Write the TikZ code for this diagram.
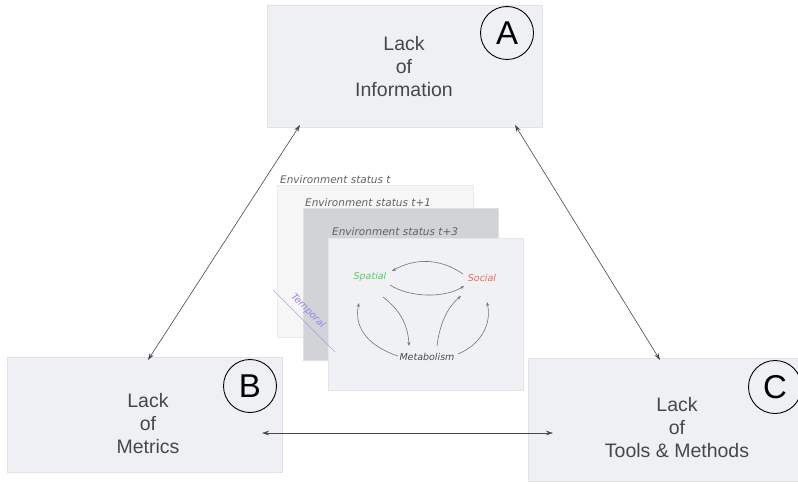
\documentclass[tikz,border=0pt]{standalone}
\usepackage{fontspec}
\setmainfont{Liberation Sans}
\newfontfamily\sketchfont{DejaVu Sans}
\usetikzlibrary{arrows.meta}
\definecolor{boxfill}{HTML}{EEF0F3}
\definecolor{boxline}{HTML}{E0E2E6}
\definecolor{ink}{HTML}{474747}
\definecolor{cardone}{HTML}{F6F6F7}
\definecolor{cardtwo}{HTML}{D2D3D6}
\definecolor{cardthree}{HTML}{EFF1F4}
\definecolor{spatialgreen}{HTML}{5CC860}
\definecolor{socialred}{HTML}{EE6A5C}
\definecolor{temporalblue}{HTML}{8A86EE}

\begin{document}
\begin{tikzpicture}[x=1pt,y=-1pt,
  panel/.style={fill=boxfill, draw=boxline, line width=0.6pt, anchor=north west, inner sep=0pt},
  caption/.style={text=ink, font=\fontsize{19.5}{23}\selectfont, align=center, inner sep=0pt},
  badge/.style={circle, draw=black, line width=0.9pt, fill=boxfill, minimum size=53pt, inner sep=0pt, font=\fontsize{33}{33}\selectfont},
  link/.style={{Stealth[length=7pt,width=4.5pt]}-{Stealth[length=7pt,width=4.5pt]}, draw=ink, line width=0.6pt},
  card/.style={anchor=north west, inner sep=0pt, line width=0.5pt},
  cardtitle/.style={text=black!62, font=\sketchfont\itshape\fontsize{10.5}{12}\selectfont, anchor=west, inner sep=0pt},
  sketchlbl/.style={font=\sketchfont\itshape\fontsize{9.5}{11}\selectfont, inner sep=0pt},
  flow/.style={-{Stealth[length=4pt,width=3pt]}, draw=black!55, line width=0.6pt},
]
\useasboundingbox (0,0) rectangle (798,484);

% --- the three problem panels ---
\node[panel, minimum width=275pt, minimum height=122pt] (A) at (267,5) {};
\node[panel, minimum width=275pt, minimum height=115pt] (B) at (7,357) {};
\node[panel, minimum width=275pt, minimum height=123pt] (C) at (528,358) {};

\node[caption] (Atext) at (404,67) {Lack\\of\\Information};
\node[caption] (Btext) at (148,424) {Lack\\of\\Metrics};
\node[caption] (Ctext) at (677,428) {Lack\\of\\Tools \& Methods};

\node[badge] (Abadge) at (507,33) {A};
\node[badge] (Bbadge) at (250,386) {B};
\node[badge] (Cbadge) at (775,387) {C};

% --- stacked environment snapshots in the middle ---
\node[card, fill=cardone, draw=black!8, minimum width=196pt, minimum height=152pt] (card1) at (277,185) {};
\node[cardtitle] (title1) at (280,180) {Environment status t};
\node[card, fill=cardtwo, draw=black!12, minimum width=195pt, minimum height=152pt] (card2) at (303,208) {};
\node[cardtitle] (title2) at (305,203) {Environment status t+1};
\node[card, fill=cardthree, draw=black!10, minimum width=195pt, minimum height=152pt] (card3) at (328,238) {};
\node[cardtitle] (title3) at (332,232) {Environment status t+3};

\node[sketchlbl, text=spatialgreen] (spatial) at (370,277) {Spatial};
\node[sketchlbl, text=socialred] (social) at (482,278) {Social};
\node[sketchlbl, text=black!70] (metab) at (427,357) {Metabolism};

\coordinate (socTop) at (463,274);
\coordinate (spaTop) at (392,271);
\coordinate (spaBot) at (390,285);
\coordinate (socBot) at (464,286);
\coordinate (metL) at (398,356);
\coordinate (spaL) at (359,303);
\coordinate (spaR) at (383,297);
\coordinate (metCL) at (409,346);
\coordinate (metCR) at (437,346);
\coordinate (socL) at (461,296);
\coordinate (metR) at (458,354);
\coordinate (socR) at (487,302);

\draw[flow] (socTop) .. controls (440,258) and (415,258) .. (spaTop);
\draw[flow] (spaBot) .. controls (410,298) and (445,298) .. (socBot);
\draw[flow] (metL) .. controls (365,345) and (354,325) .. (spaL);
\draw[flow] (spaR) .. controls (400,310) and (408,325) .. (metCL);
\draw[flow] (metCR) .. controls (440,320) and (450,305) .. (socL);
\draw[flow] (metR) .. controls (480,345) and (492,325) .. (socR);

% time axis of the snapshots
\coordinate (tStart) at (273,290);
\coordinate (tEnd) at (335,352);
\draw[temporalblue, line width=0.6pt, opacity=0.7] (tStart) -- (tEnd);
\node[sketchlbl, text=temporalblue, rotate=-45] (temporal) at (308,311) {Temporal};

% --- relations between the panels ---
\coordinate (aLeft) at (300,125);
\coordinate (bTop) at (148,360);
\coordinate (aRight) at (515,125);
\coordinate (cTop) at (660,360);
\coordinate (bRight) at (262,433);
\coordinate (cLeft) at (553,433);

\draw[link] (aLeft) -- (bTop);
\draw[link] (aRight) -- (cTop);
\draw[link] (bRight) -- (cLeft);
\end{tikzpicture}
\end{document}
